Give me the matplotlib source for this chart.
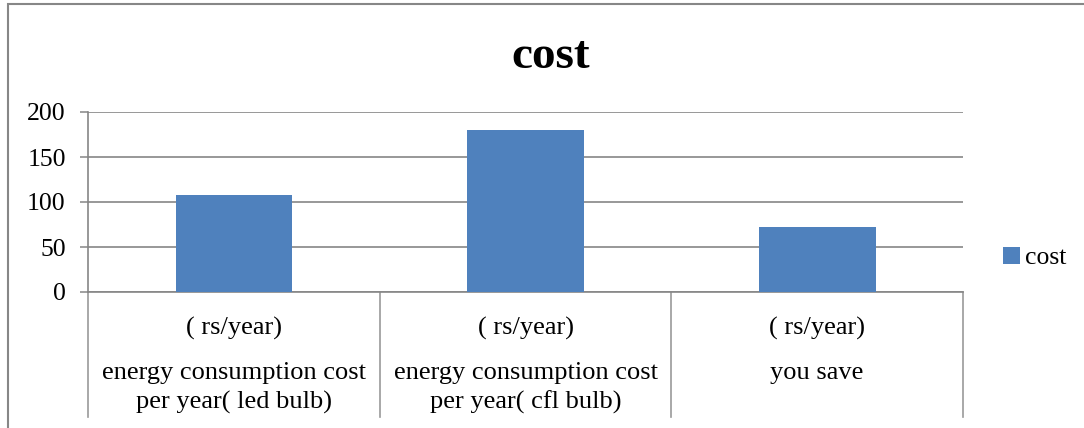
import matplotlib.pyplot as plt
from matplotlib.patches import Rectangle
from matplotlib import transforms

categories = ["energy consumption cost\nper year( led bulb)",
              "energy consumption cost\nper year( cfl bulb)",
              "you save"]
unit_labels = ["( rs/year)", "( rs/year)", "( rs/year)"]
cost = [108, 180, 72]
y_ticks = [0, 50, 100, 150, 200]

BLUE = "#4F81BD"
GRID = "#868686"
SEP = "#9a9a9a"

plt.rcParams["font.family"] = ["Liberation Serif", "DejaVu Serif"]

fig = plt.figure(figsize=(10.84, 4.28), dpi=100)
ax = fig.add_axes([88 / 1084, 136 / 428, 875 / 1084, 180 / 428])

x = range(len(cost))
bars = ax.bar(x, cost, width=0.4, color=BLUE, label="cost", zorder=3)

ax.set_xlim(-0.5, len(cost) - 0.5)
ax.set_ylim(0, 200)
ax.set_yticks(y_ticks)
ax.set_yticklabels([str(v) for v in y_ticks], fontsize=18.5)
ax.tick_params(axis="y", length=6, width=1.1, color=GRID, pad=10)
ax.set_xticks([])
ax.yaxis.grid(True, color=GRID, linewidth=1.2, zorder=0)

for side in ("top", "right"):
    ax.spines[side].set_visible(False)
for side in ("left", "bottom"):
    ax.spines[side].set_color(GRID)
    ax.spines[side].set_linewidth(1.2)

# category boxes below the axis
trans = transforms.blended_transform_factory(ax.transData, ax.transAxes)
for b in [i - 0.5 for i in range(len(cost) + 1)]:
    ax.plot([b, b], [0, -0.697], transform=trans, color=SEP,
            linewidth=1.2, clip_on=False)
for i, (u, c) in enumerate(zip(unit_labels, categories)):
    ax.text(i, -0.2, u, transform=trans, ha="center", va="center",
            fontsize=19)
    ax.text(i, -0.39, c, transform=trans, ha="center", va="top",
            fontsize=19, linespacing=1.38)

fig.text(0.508, 1 - 57 / 428, "cost", ha="center", va="center",
         fontsize=34, fontweight="bold")

ax.legend(loc="center left", bbox_to_anchor=(1003 / 1084, 1 - 258 / 428),
          bbox_transform=fig.transFigure, frameon=False, fontsize=18.5,
          handlelength=0.65, handleheight=0.65, handletextpad=0.2,
          borderpad=0, borderaxespad=0)

# outer chart frame
fig.patches.append(Rectangle((8 / 1084, -0.1), 1.2, 1.1 - 4 / 428,
                             transform=fig.transFigure, fill=False,
                             edgecolor="#878787", linewidth=1.5))

fig.savefig("out.png", dpi=100, facecolor="white")
